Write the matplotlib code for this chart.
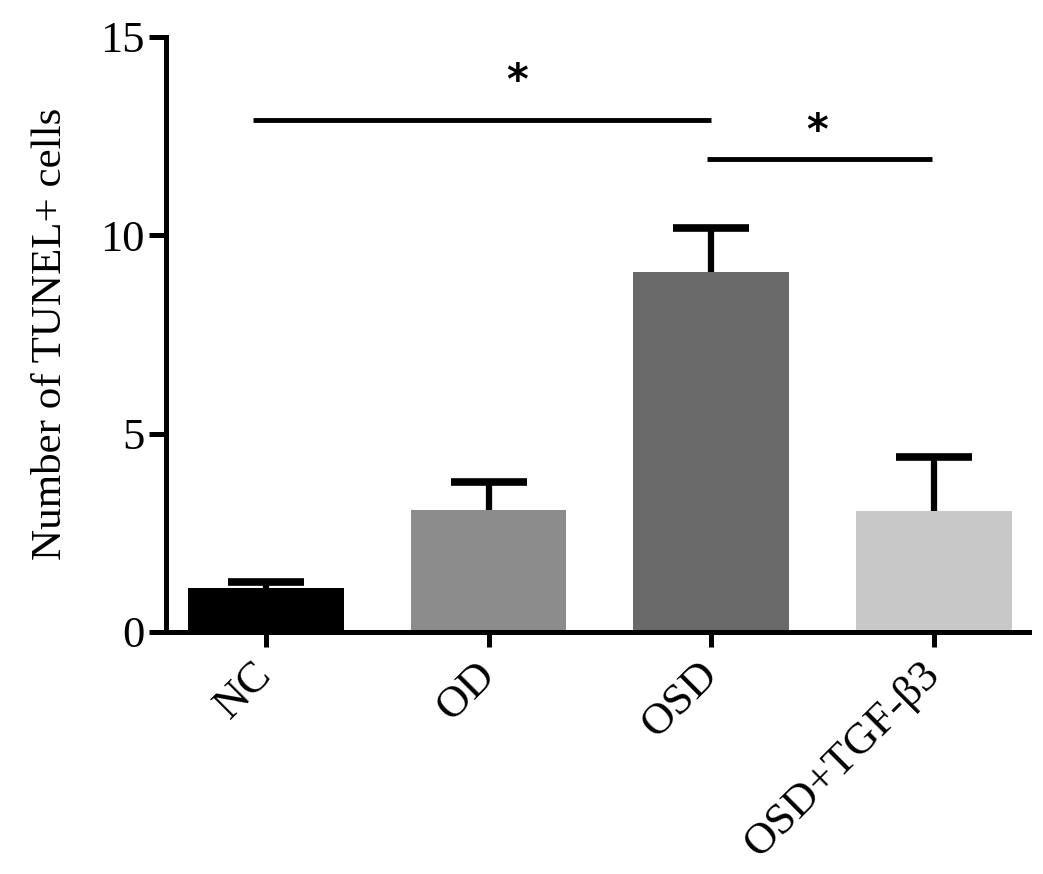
import numpy as np
import matplotlib
matplotlib.use('Agg')
import matplotlib.pyplot as plt
from matplotlib.transforms import ScaledTranslation

# data
groups = ['NC', 'OD', 'OSD', 'OSD+TGF-β3']
means = [1.1, 3.08, 9.07, 3.05]
sems = [0.17, 0.7, 1.1, 1.35]
colors = ['#000000', '#8c8c8c', '#696969', '#c8c8c8']

# significance brackets: (x start, x end, height)
sig_lines = [(-0.06, 2.0, 12.9), (1.98, 2.99, 11.92)]
sig_stars = [(1.126, 13.86, '*'), (2.475, 12.6, '*')]

plt.rcParams['font.family'] = ['Liberation Serif', 'DejaVu Serif']

fig = plt.figure(figsize=(10.43, 8.74), dpi=100)
ax = fig.add_axes([0.159, 0.277, 0.828, 0.681])

x = np.arange(len(groups))
tops = np.array(means) + np.array(sems)
ax.bar(x, means, width=0.70, color=colors, zorder=2)
# upper error bars only, cap drawn as a wide '_' marker
ax.vlines(x, means, tops, color='black', lw=4.5, zorder=3)
ax.plot(x, tops, ls='none', marker='_', markersize=55, mew=5.5,
        color='black', zorder=3)

for x0, x1, h in sig_lines:
    ax.plot([x0, x1], [h, h], color='black', lw=3.5, solid_capstyle='butt')
for xs, ys, s in sig_stars:
    ax.text(xs, ys, s, ha='center', va='center', fontsize=30,
            fontweight='bold', family='DejaVu Sans')

ax.set_xlim(-0.45, 3.43)
ax.set_ylim(0, 15)
ax.set_yticks([0, 5, 10, 15])
ax.set_xticks(x)
ax.set_xticklabels(groups, rotation=45, ha='right', fontsize=32)
ax.tick_params(axis='y', labelsize=32, width=3.6, length=12, pad=3)
ax.tick_params(axis='x', width=3.6, length=11, pad=3)
ax.set_ylabel('Number of TUNEL+ cells', fontsize=31, labelpad=22)

# nudge the rotated labels a little to the right, as in the original
shift = ScaledTranslation(14 / 100, -3 / 100, fig.dpi_scale_trans)
for lab in ax.get_xticklabels():
    lab.set_transform(lab.get_transform() + shift)

for side in ['top', 'right']:
    ax.spines[side].set_visible(False)
for side in ['left', 'bottom']:
    ax.spines[side].set_linewidth(3.6)

fig.savefig('out.png', dpi=100)
